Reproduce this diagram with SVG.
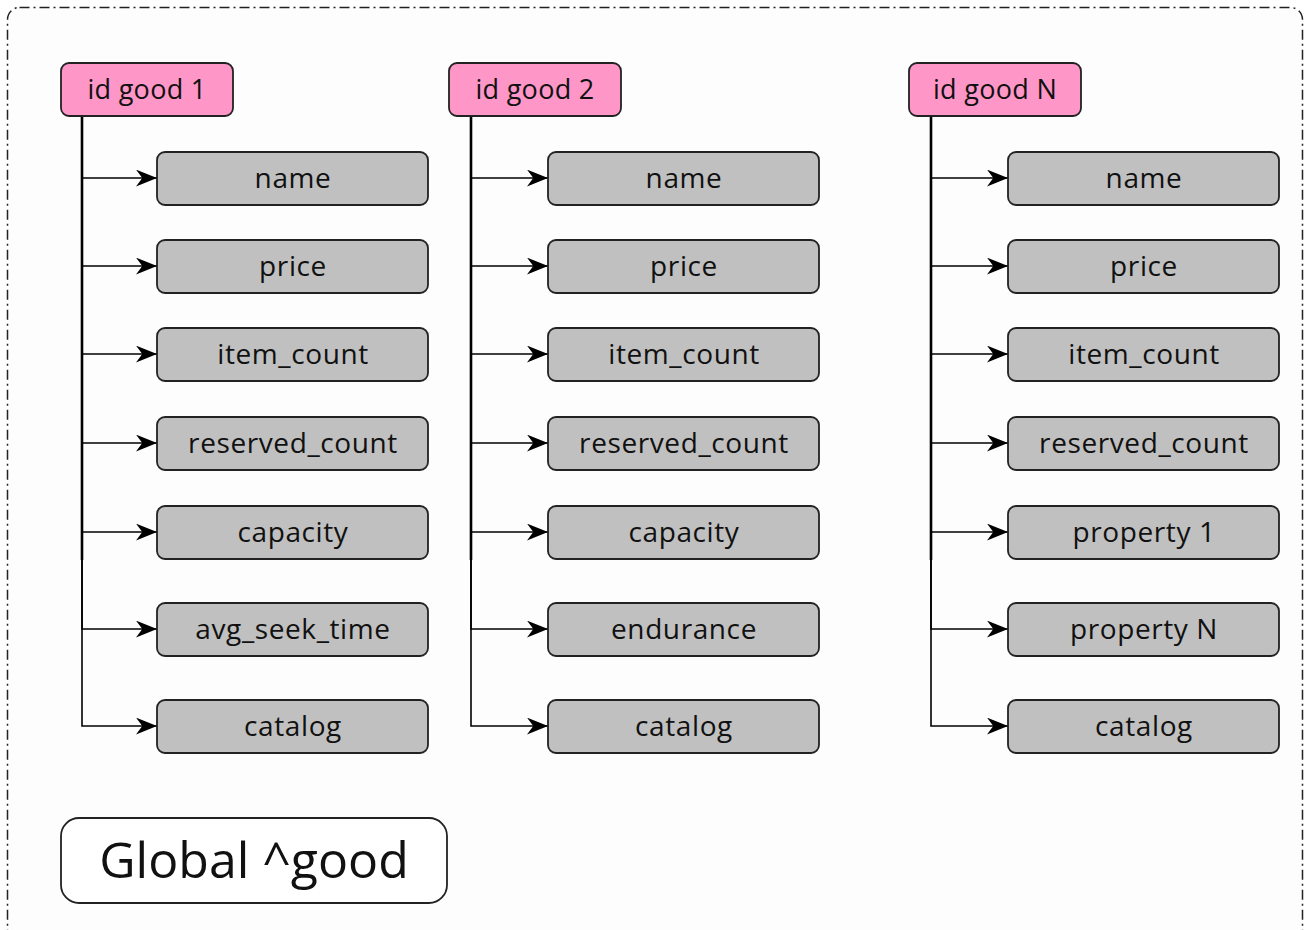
<svg xmlns="http://www.w3.org/2000/svg" width="1306" height="930" viewBox="0 0 1306 930">
  <defs>
    <marker id="arrow" viewBox="0 0 20 16" refX="20" refY="8" markerWidth="21" markerHeight="17" markerUnits="userSpaceOnUse" orient="auto">
      <path d="M0,0 L20,8 L0,16 L6,8 Z" fill="#000"/>
    </marker>
    <style>
      .frame { fill: #fdfdfd; stroke: #222; stroke-width: 1.5; stroke-dasharray: 10 4 2 4; }
      .key rect { fill: #ff96c8; stroke: #222; stroke-width: 1.8; }
      .field rect { fill: #c0c0c0; stroke: #222; stroke-width: 1.8; }
      .key text, .field text { font-family: "Open Sans", "Noto Sans", sans-serif; fill: #111; text-anchor: middle; }
      .key text { font-size: 27px; letter-spacing: 0.3px; }
      .field text { font-size: 28px; letter-spacing: 0.6px; }
      .links path { fill: none; stroke: #000; stroke-width: 1.6; marker-end: url(#arrow); }
      .links path.trunk { stroke-width: 2.6; marker-end: none; }
      .title rect { fill: #fff; stroke: #222; stroke-width: 1.8; }
      .title text { font-family: "Open Sans", "Noto Sans", sans-serif; font-size: 50px; fill: #111; text-anchor: middle; }
    </style>
  </defs>

  <!-- outer frame -->
  <rect class="frame" x="7.5" y="7.5" width="1295" height="945" rx="12"/>

  <!-- connectors -->
  <g id="connectors" class="links">
    <path class="trunk" d="M82,116 V560 M471,116 V560 M931,116 V560"/>

    <path d="M82,116 V178 H157"/>
    <path d="M82,116 V266 H157"/>
    <path d="M82,116 V354 H157"/>
    <path d="M82,116 V443 H157"/>
    <path d="M82,116 V532 H157"/>
    <path d="M82,116 V629 H157"/>
    <path d="M82,116 V726 H157"/>

    <path d="M471,116 V178 H548"/>
    <path d="M471,116 V266 H548"/>
    <path d="M471,116 V354 H548"/>
    <path d="M471,116 V443 H548"/>
    <path d="M471,116 V532 H548"/>
    <path d="M471,116 V629 H548"/>
    <path d="M471,116 V726 H548"/>

    <path d="M931,116 V178 H1008"/>
    <path d="M931,116 V266 H1008"/>
    <path d="M931,116 V354 H1008"/>
    <path d="M931,116 V443 H1008"/>
    <path d="M931,116 V532 H1008"/>
    <path d="M931,116 V629 H1008"/>
    <path d="M931,116 V726 H1008"/>
  </g>

  <!-- column 1 -->
  <g id="good1" class="key"><rect x="61" y="63" width="172" height="53" rx="8"/><text x="147" y="99">id good 1</text></g>
  <g id="good1-name" class="field"><rect x="157" y="152" width="271" height="53" rx="8"/><text x="293" y="188">name</text></g>
  <g id="good1-price" class="field"><rect x="157" y="240" width="271" height="53" rx="8"/><text x="293" y="276">price</text></g>
  <g id="good1-item_count" class="field"><rect x="157" y="328" width="271" height="53" rx="8"/><text x="293" y="364">item_count</text></g>
  <g id="good1-reserved_count" class="field"><rect x="157" y="417" width="271" height="53" rx="8"/><text x="293" y="453">reserved_count</text></g>
  <g id="good1-capacity" class="field"><rect x="157" y="506" width="271" height="53" rx="8"/><text x="293" y="542">capacity</text></g>
  <g id="good1-avg_seek_time" class="field"><rect x="157" y="603" width="271" height="53" rx="8"/><text x="293" y="639">avg_seek_time</text></g>
  <g id="good1-catalog" class="field"><rect x="157" y="700" width="271" height="53" rx="8"/><text x="293" y="736">catalog</text></g>

  <!-- column 2 -->
  <g id="good2" class="key"><rect x="449" y="63" width="172" height="53" rx="8"/><text x="535" y="99">id good 2</text></g>
  <g id="good2-name" class="field"><rect x="548" y="152" width="271" height="53" rx="8"/><text x="684" y="188">name</text></g>
  <g id="good2-price" class="field"><rect x="548" y="240" width="271" height="53" rx="8"/><text x="684" y="276">price</text></g>
  <g id="good2-item_count" class="field"><rect x="548" y="328" width="271" height="53" rx="8"/><text x="684" y="364">item_count</text></g>
  <g id="good2-reserved_count" class="field"><rect x="548" y="417" width="271" height="53" rx="8"/><text x="684" y="453">reserved_count</text></g>
  <g id="good2-capacity" class="field"><rect x="548" y="506" width="271" height="53" rx="8"/><text x="684" y="542">capacity</text></g>
  <g id="good2-endurance" class="field"><rect x="548" y="603" width="271" height="53" rx="8"/><text x="684" y="639">endurance</text></g>
  <g id="good2-catalog" class="field"><rect x="548" y="700" width="271" height="53" rx="8"/><text x="684" y="736">catalog</text></g>

  <!-- column N -->
  <g id="goodN" class="key"><rect x="909" y="63" width="172" height="53" rx="8"/><text x="995" y="99">id good N</text></g>
  <g id="goodN-name" class="field"><rect x="1008" y="152" width="271" height="53" rx="8"/><text x="1144" y="188">name</text></g>
  <g id="goodN-price" class="field"><rect x="1008" y="240" width="271" height="53" rx="8"/><text x="1144" y="276">price</text></g>
  <g id="goodN-item_count" class="field"><rect x="1008" y="328" width="271" height="53" rx="8"/><text x="1144" y="364">item_count</text></g>
  <g id="goodN-reserved_count" class="field"><rect x="1008" y="417" width="271" height="53" rx="8"/><text x="1144" y="453">reserved_count</text></g>
  <g id="goodN-property1" class="field"><rect x="1008" y="506" width="271" height="53" rx="8"/><text x="1144" y="542">property 1</text></g>
  <g id="goodN-propertyN" class="field"><rect x="1008" y="603" width="271" height="53" rx="8"/><text x="1144" y="639">property N</text></g>
  <g id="goodN-catalog" class="field"><rect x="1008" y="700" width="271" height="53" rx="8"/><text x="1144" y="736">catalog</text></g>

  <!-- global name -->
  <g id="global" class="title"><rect x="61" y="818" width="386" height="85" rx="18"/><text x="254" y="878">Global ^good</text></g>
</svg>
